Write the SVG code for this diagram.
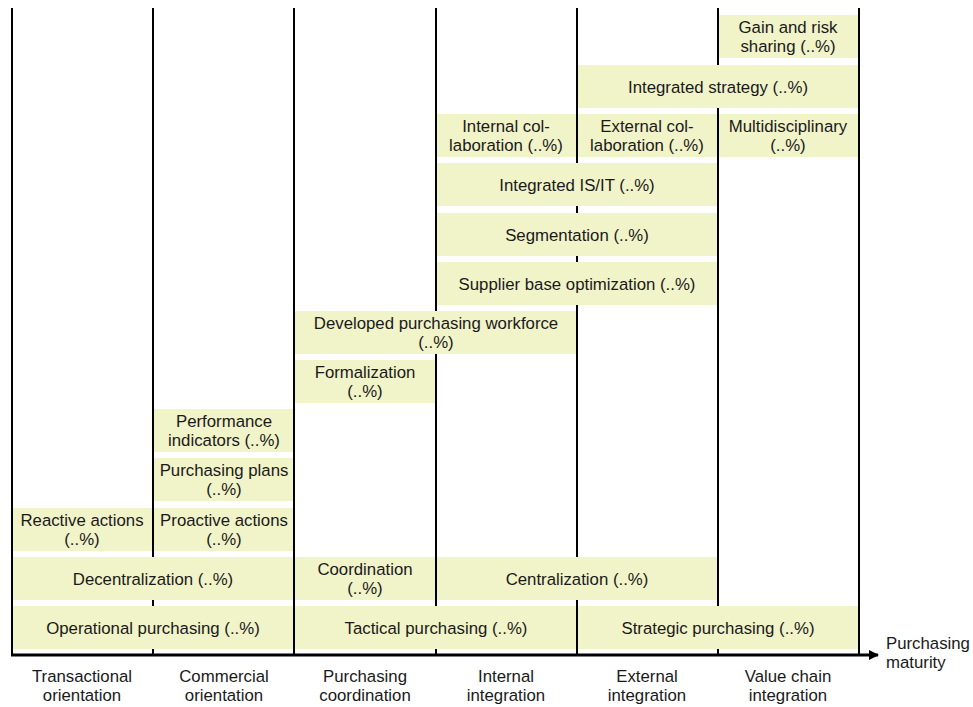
<svg xmlns="http://www.w3.org/2000/svg" width="973" height="707" viewBox="0 0 973 707">
  <style>
    .bar { fill: #f1f3c9; }
    .grid { stroke: #000; stroke-width: 2; fill: none; }
    .axis { stroke: #000; stroke-width: 3; fill: none; }
    text { font-family: "Liberation Sans", Arial, sans-serif; font-size: 16.8px; fill: #1a1a1a; text-anchor: middle; }
    .left { text-anchor: start; }
  </style>
  <defs>
    <marker id="arrow" markerWidth="10" markerHeight="10" refX="9" refY="5" orient="auto" markerUnits="userSpaceOnUse">
      <path d="M0,0 L10,5 L0,10 Z" fill="#000"/>
    </marker>
  </defs>

  <!-- stage boundaries -->
  <g id="grid">
    <line class="grid" x1="12" y1="8" x2="12" y2="655"/>
    <line class="grid" x1="153" y1="8" x2="153" y2="655"/>
    <line class="grid" x1="294" y1="8" x2="294" y2="655"/>
    <line class="grid" x1="436" y1="8" x2="436" y2="655"/>
    <line class="grid" x1="577" y1="8" x2="577" y2="655"/>
    <line class="grid" x1="718" y1="8" x2="718" y2="655"/>
    <line class="grid" x1="859" y1="8" x2="859" y2="655"/>
  </g>

  <!-- row 0 -->
  <g id="operational">
    <rect class="bar" x="13" y="606" width="280" height="43"/>
    <text x="153" y="634">Operational purchasing (..%)</text>
  </g>
  <g id="tactical">
    <rect class="bar" x="295" y="606" width="281" height="43"/>
    <text x="436" y="634">Tactical purchasing (..%)</text>
  </g>
  <g id="strategic">
    <rect class="bar" x="578" y="606" width="280" height="43"/>
    <text x="718" y="634">Strategic purchasing (..%)</text>
  </g>

  <!-- row 1 -->
  <g id="decentralization">
    <rect class="bar" x="13" y="557" width="280" height="43"/>
    <text x="153" y="585">Decentralization (..%)</text>
  </g>
  <g id="coordination">
    <rect class="bar" x="295" y="557" width="140" height="43"/>
    <text x="365" y="575">Coordination</text>
    <text x="365" y="594">(..%)</text>
  </g>
  <g id="centralization">
    <rect class="bar" x="437" y="557" width="280" height="43"/>
    <text x="577" y="585">Centralization (..%)</text>
  </g>

  <!-- row 2 -->
  <g id="reactive">
    <rect class="bar" x="13" y="508" width="139" height="43"/>
    <text x="82" y="526">Reactive actions</text>
    <text x="82" y="545">(..%)</text>
  </g>
  <g id="proactive">
    <rect class="bar" x="154" y="508" width="139" height="43"/>
    <text x="224" y="526">Proactive actions</text>
    <text x="224" y="545">(..%)</text>
  </g>

  <!-- row 3 -->
  <g id="plans">
    <rect class="bar" x="154" y="458" width="139" height="43"/>
    <text x="224" y="476">Purchasing plans</text>
    <text x="224" y="495">(..%)</text>
  </g>

  <!-- row 4 -->
  <g id="indicators">
    <rect class="bar" x="154" y="409" width="139" height="43"/>
    <text x="224" y="427">Performance</text>
    <text x="224" y="446">indicators (..%)</text>
  </g>

  <!-- row 5 -->
  <g id="formalization">
    <rect class="bar" x="295" y="360" width="140" height="43"/>
    <text x="365" y="378">Formalization</text>
    <text x="365" y="397">(..%)</text>
  </g>

  <!-- row 6 -->
  <g id="workforce">
    <rect class="bar" x="295" y="311" width="281" height="43"/>
    <text x="436" y="329">Developed purchasing workforce</text>
    <text x="436" y="348">(..%)</text>
  </g>

  <!-- row 7 -->
  <g id="supplier-base">
    <rect class="bar" x="437" y="262" width="280" height="43"/>
    <text x="577" y="290">Supplier base optimization (..%)</text>
  </g>

  <!-- row 8 -->
  <g id="segmentation">
    <rect class="bar" x="437" y="213" width="280" height="43"/>
    <text x="577" y="241">Segmentation (..%)</text>
  </g>

  <!-- row 9 -->
  <g id="is-it">
    <rect class="bar" x="437" y="163" width="280" height="43"/>
    <text x="577" y="191">Integrated IS/IT (..%)</text>
  </g>

  <!-- row 10 -->
  <g id="internal-collab">
    <rect class="bar" x="437" y="114" width="139" height="43"/>
    <text x="506" y="132">Internal col-</text>
    <text x="506" y="151">laboration (..%)</text>
  </g>
  <g id="external-collab">
    <rect class="bar" x="578" y="114" width="139" height="43"/>
    <text x="647" y="132">External col-</text>
    <text x="647" y="151">laboration (..%)</text>
  </g>
  <g id="multidisciplinary">
    <rect class="bar" x="719" y="114" width="139" height="43"/>
    <text x="788" y="132">Multidisciplinary</text>
    <text x="788" y="151">(..%)</text>
  </g>

  <!-- row 11 -->
  <g id="integrated-strategy">
    <rect class="bar" x="578" y="65" width="280" height="43"/>
    <text x="718" y="93">Integrated strategy (..%)</text>
  </g>

  <!-- row 12 -->
  <g id="gain-risk">
    <rect class="bar" x="719" y="15" width="139" height="43"/>
    <text x="788" y="33">Gain and risk</text>
    <text x="788" y="52">sharing (..%)</text>
  </g>

  <!-- maturity axis -->
  <g id="connectors">
    <line class="axis" x1="11" y1="655" x2="878" y2="655" marker-end="url(#arrow)"/>
  </g>

  <g id="axis-labels">
    <text x="82" y="682">Transactional</text>
    <text x="82" y="701">orientation</text>
    <text x="224" y="682">Commercial</text>
    <text x="224" y="701">orientation</text>
    <text x="365" y="682">Purchasing</text>
    <text x="365" y="701">coordination</text>
    <text x="506" y="682">Internal</text>
    <text x="506" y="701">integration</text>
    <text x="647" y="682">External</text>
    <text x="647" y="701">integration</text>
    <text x="788" y="682">Value chain</text>
    <text x="788" y="701">integration</text>
    <text class="left" x="886" y="649">Purchasing</text>
    <text class="left" x="886" y="668">maturity</text>
  </g>
</svg>
